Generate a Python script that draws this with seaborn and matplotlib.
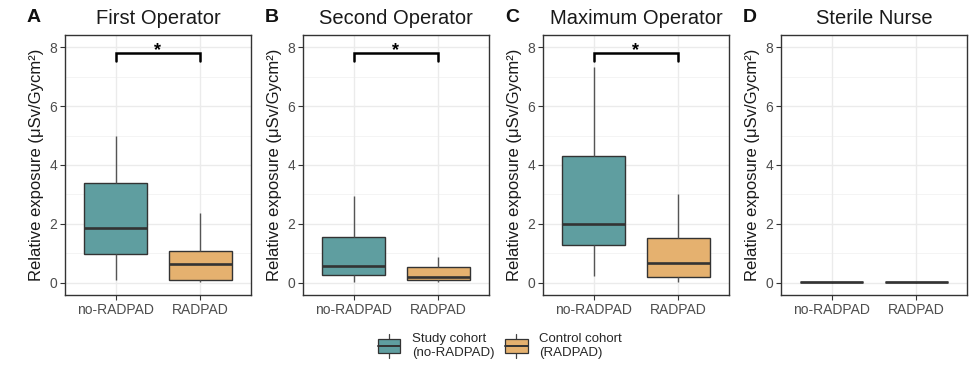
import numpy as np
import pandas as pd
import matplotlib
matplotlib.use("Agg")
import matplotlib.pyplot as plt
import seaborn as sns
from matplotlib.legend_handler import HandlerBase
from matplotlib.patches import Rectangle
from matplotlib.lines import Line2D

# ---------------- data ----------------
panels = ["First Operator", "Second Operator", "Maximum Operator", "Sterile Nurse"]
letters = ["A", "B", "C", "D"]
groups = ["no-RADPAD", "RADPAD"]
legend_labels = ["Study cohort\n(no-RADPAD)", "Control cohort\n(RADPAD)"]
# five-number summaries: lower whisker, Q1, median, Q3, upper whisker
first_no = [0.10, 0.99, 1.85, 3.39, 4.97]
first_rad = [0.03, 0.09, 0.64, 1.07, 2.38]
second_no = [0.03, 0.26, 0.56, 1.56, 2.95]
second_rad = [0.03, 0.09, 0.20, 0.54, 0.88]
max_no = [0.23, 1.30, 2.00, 4.32, 7.34]
max_rad = [0.03, 0.20, 0.69, 1.53, 3.00]
nurse_no = [0.01, 0.02, 0.02, 0.02, 0.03]
nurse_rad = [0.01, 0.02, 0.02, 0.02, 0.03]
significant = [True, True, True, False]
yticks = [0, 2, 4, 6, 8]

panel_data = [(first_no, first_rad), (second_no, second_rad),
              (max_no, max_rad), (nurse_no, nurse_rad)]

colors = {"no-RADPAD": "#5F9EA0", "RADPAD": "#E5B16F"}
ylabel = "Relative exposure (\u03bcSv/Gycm\u00b2)"

sns.set_theme(style="white")
plt.rcParams["font.family"] = ["Liberation Sans", "DejaVu Sans"]

W, H = 976, 367
fig = plt.figure(figsize=(W / 100, H / 100), dpi=100)

lefts = [65, 303, 543, 781]
ax_w = 186
top, bottom = 35, 295

for i, (name, letter, (d_no, d_rad)) in enumerate(zip(panels, letters, panel_data)):
    ax = fig.add_axes([lefts[i] / W, 1 - bottom / H, ax_w / W, (bottom - top) / H])
    df = pd.DataFrame({
        "group": [groups[0]] * len(d_no) + [groups[1]] * len(d_rad),
        "value": list(d_no) + list(d_rad),
    })
    # grid
    ax.set_axisbelow(True)
    for y in yticks:
        ax.axhline(y, color="#EBEBEB", lw=1.0, zorder=0)
    for y in [1, 3, 5, 7]:
        ax.axhline(y, color="#F2F2F2", lw=0.6, zorder=0)
    for x in [0, 1]:
        ax.axvline(x, color="#EBEBEB", lw=1.0, zorder=0)
    sns.boxplot(data=df, x="group", y="value", hue="group", palette=colors,
                order=groups, hue_order=groups, width=0.75, whis=(0, 100),
                saturation=1, linecolor="#333333", linewidth=1.0, legend=False, ax=ax,
                medianprops=dict(color="#333333", lw=1.9),
                whiskerprops=dict(color="#555555", lw=1.0),
                capprops=dict(lw=0), showfliers=False)
    ax.set_xlim(-0.6, 1.6)
    ax.set_ylim(-0.41, 8.41)
    ax.set_yticks(yticks)
    ax.set_yticklabels([str(t) for t in yticks])
    ax.set_xlabel("")
    ax.set_ylabel(ylabel, fontsize=12, color="#1a1a1a", labelpad=4)
    ax.tick_params(axis="both", which="major", length=3.5, width=0.8, color="#333333",
                   labelcolor="#4D4D4D", labelsize=10, direction="out", pad=2,
                   bottom=True, left=True)
    for s in ax.spines.values():
        s.set_color("#333333")
        s.set_linewidth(1.0)
        s.set_visible(True)
    ax.set_title(name, fontsize=14.5, color="#1a1a1a", pad=8)
    fig.text((lefts[i] - 38) / W, 1 - 18 / H, letter, fontsize=14, fontweight="bold",
             ha="left", va="center", color="#111111")
    if significant[i]:
        ax.plot([0, 0, 1, 1], [7.52, 7.8, 7.8, 7.52], color="black", lw=1.8,
                solid_joinstyle="miter", zorder=5)
        ax.text(0.5, 7.72, "*", ha="center", va="baseline", fontsize=13,
                fontweight="bold", color="black")


class BoxHandler(HandlerBase):
    def create_artists(self, legend, orig_handle, xdescent, ydescent, width,
                       height, fontsize, trans):
        c = orig_handle.get_facecolor()
        x0, y0 = -xdescent, -ydescent
        cx = x0 + width / 2
        whisk = Line2D([cx, cx], [y0 - 0.35 * height, y0 + 1.35 * height],
                       color="#444444", lw=0.9, transform=trans)
        rect = Rectangle((x0, y0), width, height, facecolor=c, edgecolor="#333333",
                         lw=0.9, transform=trans)
        med = Line2D([x0, x0 + width], [y0 + height / 2] * 2, color="#333333",
                     lw=1.4, transform=trans)
        return [whisk, rect, med]


handles = [Rectangle((0, 0), 1, 1, facecolor=colors[g]) for g in groups]
fig.legend(handles, legend_labels, loc="center", bbox_to_anchor=(500 / W, 1 - 346 / H),
           ncol=2, frameon=False, fontsize=9.5, handlelength=1.7, handleheight=1.3,
           handletextpad=0.9, columnspacing=0.8,
           handler_map={h: BoxHandler() for h in handles})

fig.savefig("out.png", dpi=100, facecolor="white")
